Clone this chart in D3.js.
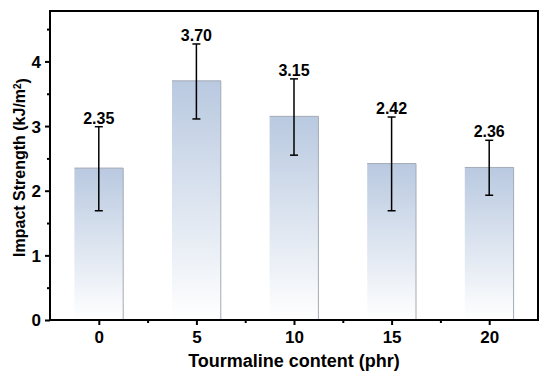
<!DOCTYPE html>
<html>
<head>
<meta charset="utf-8">
<script src="https://cdn.jsdelivr.net/npm/d3@7"></script>
<style>
  body { margin: 0; background: #fff; }
  text { font-family: Arial, "Liberation Sans", sans-serif; font-weight: bold; fill: #000; }
</style>
</head>
<body>
<div id="chart"></div>
<script>
// data
const contents = [0, 5, 10, 15, 20];
const strength = [2.35, 3.70, 3.15, 2.42, 2.36];
const errLow = [1.69, 3.11, 2.55, 1.69, 1.93];
const errHigh = [2.99, 4.27, 3.73, 3.14, 2.78];
const labels = ['2.35', '3.70', '3.15', '2.42', '2.36'];
const xTicks = [0, 5, 10, 15, 20];
const yTicks = [0, 1, 2, 3, 4];

const data = contents.map((c, i) => ({
    content: c, value: strength[i], lo: errLow[i], hi: errHigh[i], label: labels[i]
}));

// margin convention
const W = 550, H = 380;
const margin = { top: 11, right: 12, bottom: 60, left: 50 };
const width = W - margin.left - margin.right;
const height = H - margin.top - margin.bottom;

const xScale = d3.scaleLinear([-2.5, 22.5], [0, width]);
const yScale = d3.scaleLinear([0, 4.78], [height, 0]);
const barW = xScale(2.5) - xScale(0);

const svg = d3.select('#chart')
    .append('svg')
    .attr('width', W)
    .attr('height', H)
    .append('g')
    .attr('transform', `translate(${margin.left},${margin.top})`);

// vertical gradient for bars
const grad = svg.append('defs').append('linearGradient')
    .attr('id', 'barGrad')
    .attr('x1', 0).attr('y1', 0).attr('x2', 0).attr('y2', 1);
grad.append('stop').attr('offset', '0%').attr('stop-color', '#b9c9e0');
grad.append('stop').attr('offset', '100%').attr('stop-color', '#ffffff');

// bars
svg.selectAll('.bar')
    .data(data)
    .enter()
    .append('rect')
    .attr('class', 'bar')
    .attr('x', d => xScale(d.content) - barW / 2)
    .attr('y', d => yScale(d.value))
    .attr('width', barW)
    .attr('height', d => yScale(0) - yScale(d.value))
    .style('fill', 'url(#barGrad)');

// bar top + right edge (faint gray outline)
svg.selectAll('.bar-edge')
    .data(data)
    .enter()
    .append('path')
    .attr('class', 'bar-edge')
    .attr('d', d => {
        const x0 = xScale(d.content) - barW / 2, x1 = x0 + barW;
        return `M${x0},${yScale(d.value)}H${x1}V${yScale(0)}`;
    })
    .style('fill', 'none')
    .style('stroke', '#a3aab6')
    .style('stroke-width', 1);

// error bars
const err = svg.selectAll('.err')
    .data(data)
    .enter()
    .append('g')
    .attr('class', 'err')
    .style('stroke', '#000')
    .style('stroke-width', 1.5);

err.append('line')
    .attr('x1', d => xScale(d.content)).attr('x2', d => xScale(d.content))
    .attr('y1', d => yScale(d.lo)).attr('y2', d => yScale(d.hi));
err.append('line')
    .attr('x1', d => xScale(d.content) - 4).attr('x2', d => xScale(d.content) + 4)
    .attr('y1', d => yScale(d.hi)).attr('y2', d => yScale(d.hi));
err.append('line')
    .attr('x1', d => xScale(d.content) - 4).attr('x2', d => xScale(d.content) + 4)
    .attr('y1', d => yScale(d.lo)).attr('y2', d => yScale(d.lo));

// value labels
svg.selectAll('.val')
    .data(data)
    .enter()
    .append('text')
    .attr('class', 'val')
    .attr('x', d => xScale(d.content))
    .attr('y', d => yScale(d.hi) - 3)
    .attr('text-anchor', 'middle')
    .style('font-size', '16px')
    .text(d => d.label);

// frame
svg.append('rect')
    .attr('width', width)
    .attr('height', height)
    .style('fill', 'none')
    .style('stroke', '#000')
    .style('stroke-width', 2);

// axes
const xAxis = d3.axisBottom(xScale).tickValues(xTicks).tickFormat(d3.format('d'))
    .tickSizeInner(5).tickSizeOuter(0).tickPadding(6);
const xAxisDraw = svg.append('g')
    .attr('class', 'x axis')
    .attr('transform', `translate(0,${height})`)
    .call(xAxis);

const yAxis = d3.axisLeft(yScale).tickValues(yTicks).tickFormat(d3.format('d'))
    .tickSizeInner(5).tickSizeOuter(0).tickPadding(4);
const yAxisDraw = svg.append('g')
    .attr('class', 'y axis')
    .call(yAxis);

// minor ticks
const xMinor = d3.axisBottom(xScale).tickValues([2.5, 7.5, 12.5, 17.5]).tickSize(3).tickFormat('');
svg.append('g').attr('class', 'x minor').attr('transform', `translate(0,${height})`).call(xMinor);
const yMinor = d3.axisLeft(yScale).tickValues([0.5, 1.5, 2.5, 3.5, 4.5]).tickSize(3).tickFormat('');
svg.append('g').attr('class', 'y minor').call(yMinor);

svg.selectAll('.axis path, .minor path').remove();
svg.selectAll('.axis line, .minor line').style('stroke', '#000').style('stroke-width', 2);
xAxisDraw.selectAll('text').style('font-size', '17px');
yAxisDraw.selectAll('text').style('font-size', '17px').attr('dy', '0.35em');

// axis titles
svg.append('text')
    .attr('x', width / 2)
    .attr('y', height + 47)
    .attr('text-anchor', 'middle')
    .style('font-size', '18px')
    .text('Tourmaline content (phr)');

const yTitle = svg.append('text')
    .attr('transform', `translate(${-25},${height / 2 + 2}) rotate(-90)`)
    .attr('text-anchor', 'middle')
    .style('font-size', '16px');
yTitle.append('tspan').text('Impact Strength (kJ/m');
yTitle.append('tspan').attr('dy', '-0.45em').style('font-size', '10px').text('2');
yTitle.append('tspan').attr('dy', '0.45em').text(')');
</script>
</body>
</html>
